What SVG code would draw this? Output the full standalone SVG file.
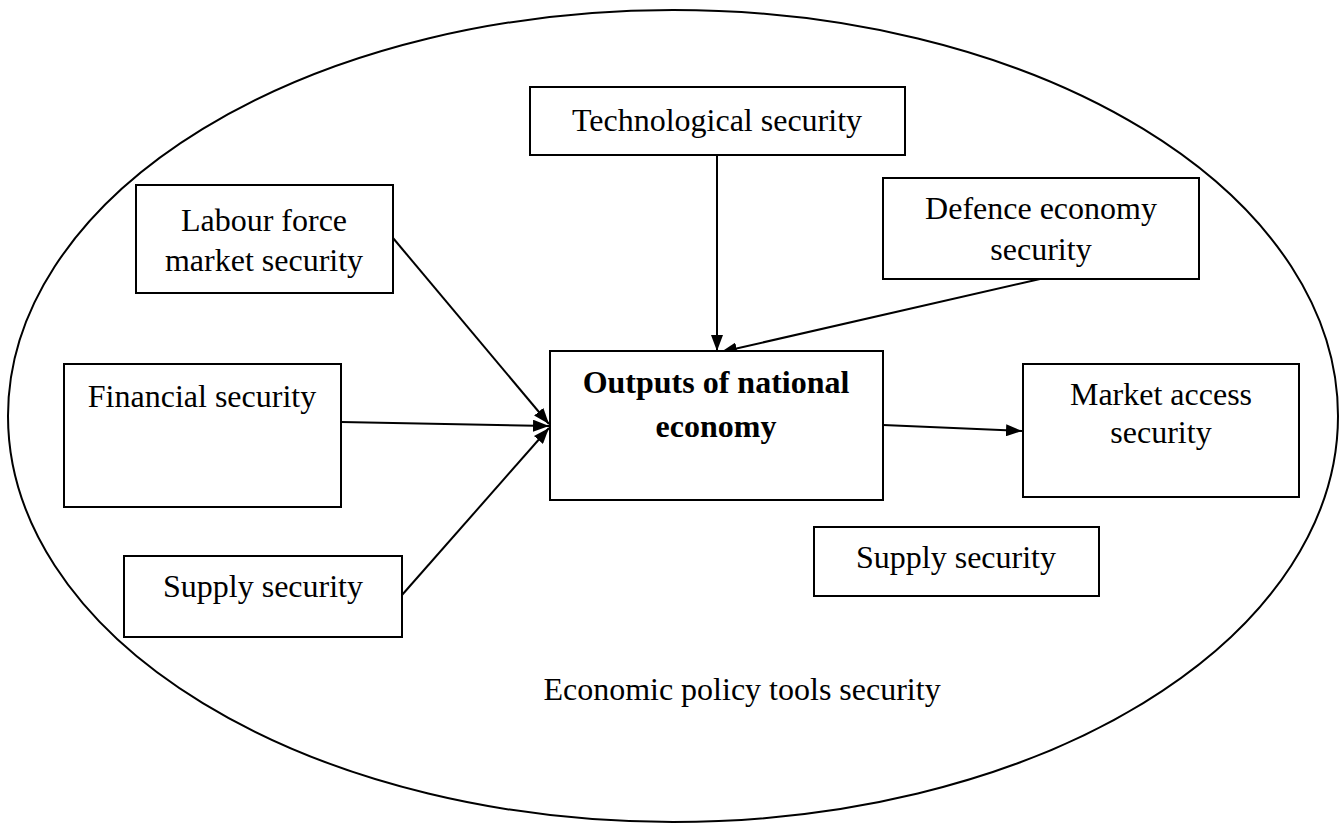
<svg xmlns="http://www.w3.org/2000/svg" width="1344" height="823" viewBox="0 0 1344 823">
  <defs>
    <style>
      .box { fill: #ffffff; stroke: #000000; stroke-width: 2; }
      .lbl { font-family: "Liberation Serif", "Times New Roman", serif; font-size: 32px; fill: #000000; text-anchor: middle; }
      .bold { font-weight: bold; }
      .edge { fill: none; stroke: #000000; stroke-width: 2; }
    </style>
    <marker id="arrow" viewBox="0 0 16 12" refX="16" refY="6" markerWidth="16" markerHeight="12" markerUnits="userSpaceOnUse" orient="auto">
      <path d="M0,0 L16,6 L0,12 Z" fill="#000000"/>
    </marker>
  </defs>

  <rect width="1344" height="823" fill="#ffffff"/>

  <!-- outer boundary -->
  <ellipse cx="673" cy="416" rx="665" ry="406" fill="none" stroke="#000000" stroke-width="2"/>
  <text class="lbl" x="742" y="700">Economic policy tools security</text>

  <!-- connectors -->
  <g id="connectors">
    <line class="edge" x1="717" y1="155" x2="717" y2="351" marker-end="url(#arrow)"/>
    <line class="edge" x1="1040" y1="279" x2="721" y2="352" marker-end="url(#arrow)"/>
    <line class="edge" x1="393" y1="238" x2="549" y2="424" marker-end="url(#arrow)"/>
    <line class="edge" x1="341" y1="422" x2="549" y2="426" marker-end="url(#arrow)"/>
    <line class="edge" x1="402" y1="595" x2="549" y2="428" marker-end="url(#arrow)"/>
    <line class="edge" x1="883" y1="425" x2="1022" y2="431" marker-end="url(#arrow)"/>
  </g>

  <g id="technological">
    <rect class="box" x="530" y="87" width="375" height="68"/>
    <text class="lbl" x="717" y="131">Technological security</text>
  </g>

  <g id="labour">
    <rect class="box" x="136" y="185" width="257" height="108"/>
    <text class="lbl" x="264" y="231">Labour force</text>
    <text class="lbl" x="264" y="271">market security</text>
  </g>

  <g id="defence">
    <rect class="box" x="883" y="178" width="316" height="101"/>
    <text class="lbl" x="1041" y="219">Defence economy</text>
    <text class="lbl" x="1041" y="260">security</text>
  </g>

  <g id="outputs">
    <rect class="box" x="550" y="351" width="333" height="149"/>
    <text class="lbl bold" x="716" y="393">Outputs of national</text>
    <text class="lbl bold" x="716" y="437">economy</text>
  </g>

  <g id="financial">
    <rect class="box" x="64" y="364" width="277" height="143"/>
    <text class="lbl" x="202" y="407">Financial security</text>
  </g>

  <g id="market-access">
    <rect class="box" x="1023" y="364" width="276" height="133"/>
    <text class="lbl" x="1161" y="405">Market access</text>
    <text class="lbl" x="1161" y="443">security</text>
  </g>

  <g id="supply-left">
    <rect class="box" x="124" y="556" width="278" height="81"/>
    <text class="lbl" x="263" y="597">Supply security</text>
  </g>

  <g id="supply-right">
    <rect class="box" x="814" y="527" width="285" height="69"/>
    <text class="lbl" x="956" y="568">Supply security</text>
  </g>
</svg>
